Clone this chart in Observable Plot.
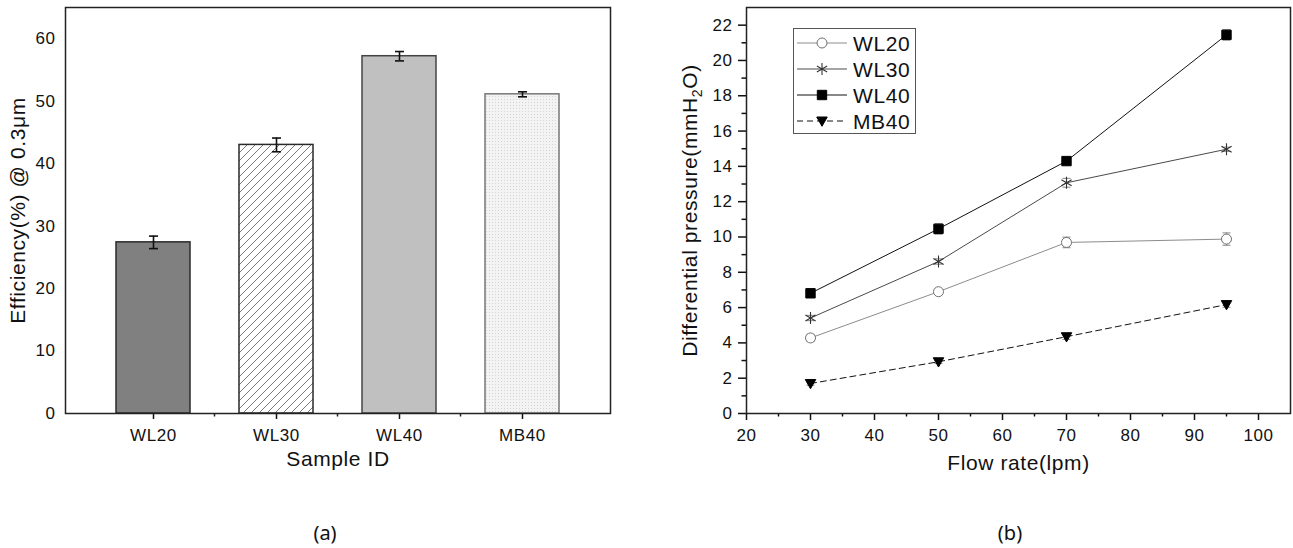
<!DOCTYPE html>
<html><head><meta charset="utf-8">
<script src="https://cdn.jsdelivr.net/npm/d3@7"></script>
<script src="https://cdn.jsdelivr.net/npm/@observablehq/plot@0.6"></script>
<style>
body{margin:0;background:#fff;}
#wrap{position:relative;width:1293px;height:548px;overflow:hidden;background:#fff;}
.panel{position:absolute;top:0;}
.cap{position:absolute;font-family:"Noto Sans",sans-serif;font-size:20px;transform:translate(-50%,-50%);color:#111;}
#legend{position:absolute;left:793px;top:28px;}
svg text{letter-spacing:0.6px;}
</style></head><body>
<svg width="0" height="0" style="position:absolute"><defs>
<pattern id="hatch" width="8" height="8" patternUnits="userSpaceOnUse"><rect width="8" height="8" fill="#fff"/><path d="M-1,1 L1,-1 M0,8 L8,0 M7,9 L9,7" stroke="#5a5a5a" stroke-width="0.8"/></pattern>
<pattern id="dots" width="3" height="3" patternUnits="userSpaceOnUse"><rect width="3" height="3" fill="#f3f3f3"/><rect width="1" height="1" fill="#d4d4d4"/></pattern>
</defs></svg>
<div id="wrap">
 <div id="a" class="panel" style="left:0"></div>
 <div id="b" class="panel" style="left:640px"></div>
 <div id="legend"></div>
 <div class="cap" style="left:325px;top:532px">(a)</div>
 <div class="cap" style="left:1010px;top:532px">(b)</div>
</div>
<script>
// ---------- data: panel (a) ----------
const samples = ["WL20", "WL30", "WL40", "MB40"];
const efficiency = [27.4, 43.0, 57.2, 51.1];
const efficiencyErr = [1.0, 1.1, 0.75, 0.4];
const efficiencyTicks = [0, 10, 20, 30, 40, 50, 60];

// ---------- data: panel (b) ----------
const flowRate = [30, 50, 70, 95];
const seriesNames = ["WL20", "WL30", "WL40", "MB40"];
const pressureWL20 = [4.28, 6.9, 9.69, 9.88];
const pressureWL30 = [5.41, 8.61, 13.07, 14.97];
const pressureWL40 = [6.81, 10.46, 14.3, 21.45];
const pressureMB40 = [1.7, 2.93, 4.35, 6.17];
const errWL20 = [0.2, 0.15, 0.3, 0.35];
const errWL30 = [0.15, 0.15, 0.25, 0.12];
const errWL40 = [0.1, 0.3, 0.1, 0.3];
const errMB40 = [0.1, 0.1, 0.15, 0.15];
const flowTicks = [20, 30, 40, 50, 60, 70, 80, 90, 100];
const flowMinorTicks = [25, 35, 45, 55, 65, 75, 85, 95];
const pressureTicks = [0, 2, 4, 6, 8, 10, 12, 14, 16, 18, 20, 22];
const pressureMinorTicks = [1, 3, 5, 7, 9, 11, 13, 15, 17, 19, 21];

// ---------- styles ----------
const FONT = '"Liberation Sans", Arial, sans-serif';
const barFill = ["#808080", "url(#hatch)", "#c0c0c0", "url(#dots)"];
const barStroke = ["#2a2a2a", "#2a2a2a", "#444", "#777"];

const capSymbol = {draw(ctx, size) { const w = Math.sqrt(size / Math.PI); ctx.moveTo(-w, 0); ctx.lineTo(w, 0); }};
const triangleDown = {draw(ctx, size) {
  const r = Math.sqrt(size / Math.PI);
  ctx.moveTo(-r * 1.05, -r * 0.8); ctx.lineTo(r * 1.05, -r * 0.8); ctx.lineTo(0, r * 1.05); ctx.closePath();
}};
const seriesStyle = {
  WL20: {line: "#8c8c8c", dash: null, symbol: "circle", fill: "white", mstroke: "#707070", r: 5, sw: 1},
  WL30: {line: "#4a4a4a", dash: null, symbol: "asterisk", fill: "none", mstroke: "#333", r: 5.6, sw: 1.1},
  WL40: {line: "#111", dash: null, symbol: "square", fill: "#000", mstroke: "#000", r: 5.3, sw: 1},
  MB40: {line: "#111", dash: "6,4", symbol: triangleDown, fill: "#000", mstroke: "#000", r: 5, sw: 1}
};

// ---------- panel (a) ----------
const effData = samples.map((s, i) => ({sample: s, value: efficiency[i], err: efficiencyErr[i]}));
const plotA = Plot.plot({
  width: 640, height: 480,
  marginLeft: 65, marginRight: 30, marginTop: 7, marginBottom: 67,
  style: {fontFamily: FONT, fontSize: "16px", color: "#111", background: "transparent", overflow: "visible"},
  x: {type: "band", domain: samples, padding: 0.4, label: null},
  y: {domain: [0, 65], label: null},
  color: {type: "ordinal", domain: samples, range: barFill},
  marks: [
    ...samples.map((s, i) => Plot.barY(effData.filter(d => d.sample === s),
      {x: "sample", y: "value", fill: "sample", stroke: barStroke[i], strokeWidth: 1.5})),
    Plot.ruleX(effData, {x: "sample", y1: d => d.value - d.err, y2: d => d.value + d.err, stroke: "#111", strokeWidth: 1.6}),
    Plot.dot(effData, {x: "sample", y: d => d.value + d.err, symbol: capSymbol, r: 4.5, stroke: "#111", strokeWidth: 1.6, fill: "none"}),
    Plot.dot(effData, {x: "sample", y: d => d.value - d.err, symbol: capSymbol, r: 4.5, stroke: "#111", strokeWidth: 1.6, fill: "none"}),
    Plot.axisY({ticks: efficiencyTicks, tickSize: 0, tickPadding: 10, fontSize: 17, label: null}),
    Plot.axisX({tickSize: 6, tickPadding: 9, strokeWidth: 1.5, fontSize: 17, label: null}),
    Plot.frame({stroke: "#222", strokeWidth: 1.5}),
    Plot.text(["Sample ID"], {text: d => d, frameAnchor: "bottom", dy: 52, fontSize: 21}),
    Plot.text(["Efficiency(%) @ 0.3μm"], {text: d => d, frameAnchor: "left", textAnchor: "middle", rotate: -90, dx: -47, fontSize: 21})
  ]
});
document.getElementById("a").appendChild(plotA);
// minor ticks between categories
{
  const xs = plotA.scale("x");
  const yb = 480 - 67;
  const g = d3.select(plotA).append("g").attr("stroke", "#222").attr("stroke-width", 1.5);
  samples.slice(0, -1).forEach(s => {
    const xm = xs.apply(s) + xs.bandwidth / 2 + xs.step / 2;
    g.append("line").attr("x1", xm).attr("x2", xm).attr("y1", yb).attr("y2", yb + 3.5);
  });
}

// ---------- panel (b) ----------
const pressureSeries = [pressureWL20, pressureWL30, pressureWL40, pressureMB40];
const errSeries = [errWL20, errWL30, errWL40, errMB40];
const dpData = seriesNames.flatMap((name, k) => flowRate.map((f, i) => ({
  series: name, flow: f, dp: pressureSeries[k][i], err: errSeries[k][i]
})));

const seriesMarks = seriesNames.flatMap(name => {
  const st = seriesStyle[name];
  const d = dpData.filter(r => r.series === name);
  return [
    Plot.line(d, {x: "flow", y: "dp", stroke: st.line, strokeWidth: 1, strokeDasharray: st.dash}),
    Plot.ruleX(d, {x: "flow", y1: r => r.dp - r.err, y2: r => r.dp + r.err, stroke: "#888", strokeWidth: 1}),
    Plot.dot(d, {x: "flow", y: r => r.dp + r.err, symbol: capSymbol, r: 4, stroke: "#888", strokeWidth: 1, fill: "none"}),
    Plot.dot(d, {x: "flow", y: r => r.dp - r.err, symbol: capSymbol, r: 4, stroke: "#888", strokeWidth: 1, fill: "none"})
  ];
});
const dotMarks = seriesNames.map(name => {
  const st = seriesStyle[name];
  const d = dpData.filter(r => r.series === name);
  return Plot.dot(d, {x: "flow", y: "dp", symbol: st.symbol, r: st.r, fill: st.fill, stroke: st.mstroke, strokeWidth: st.sw});
});

const plotB = Plot.plot({
  width: 653, height: 480,
  marginLeft: 106, marginRight: 3, marginTop: 7, marginBottom: 67,
  style: {fontFamily: FONT, fontSize: "16px", color: "#111", background: "transparent", overflow: "visible"},
  x: {domain: [20, 105], label: null},
  y: {domain: [0, 23], label: null},
  marks: [
    ...seriesMarks,
    ...dotMarks,
    Plot.axisY(pressureTicks, {tickSize: 8, tickPadding: 6, strokeWidth: 1.5, fontSize: 17, label: null}),
    Plot.axisY(pressureMinorTicks, {tickSize: 4.5, tickFormat: () => "", strokeWidth: 1.5, label: null}),
    Plot.axisX(flowTicks, {tickSize: 7, tickPadding: 8, strokeWidth: 1.5, fontSize: 17, label: null}),
    Plot.axisX(flowMinorTicks, {tickSize: 3.5, tickFormat: () => "", strokeWidth: 1.5, label: null}),
    Plot.frame({stroke: "#222", strokeWidth: 1.5}),
    Plot.text(["Flow rate(lpm)"], {text: d => d, frameAnchor: "bottom", dy: 56, fontSize: 21}),
    Plot.text(["Differential pressure(mmH2O)"], {text: d => d, frameAnchor: "left", textAnchor: "middle", rotate: -90, dx: -56, fontSize: 21})
  ]
});
document.getElementById("b").appendChild(plotB);
// subscript 2 in mmH2O
d3.select(plotB).selectAll("text").filter(function() { return this.textContent === "Differential pressure(mmH2O)"; })
  .each(function() {
    const t = d3.select(this);
    t.text(null);
    t.append("tspan").text("Differential pressure(mmH");
    t.append("tspan").attr("dy", 5).attr("font-size", 14).text("2");
    t.append("tspan").attr("dy", -5).text("O)");
  });

// ---------- legend ----------
{
  const lw = 123, lh = 106, rowH = 26, y0 = 15;
  const svg = d3.select("#legend").append("svg").attr("width", lw).attr("height", lh)
    .style("font-family", FONT).style("font-size", "21px").style("overflow", "visible");
  svg.append("rect").attr("x", 0.5).attr("y", 0.5).attr("width", lw - 1).attr("height", lh - 1)
    .attr("fill", "white").attr("stroke", "#555").attr("stroke-width", 1);
  seriesNames.forEach((name, i) => {
    const st = seriesStyle[name];
    const y = y0 + i * rowH;
    const g = svg.append("g").attr("transform", `translate(0,${y})`);
    g.append("line").attr("x1", 4).attr("x2", 54).attr("y1", 0).attr("y2", 0)
      .attr("stroke", st.line).attr("stroke-width", 1).attr("stroke-dasharray", st.dash);
    const sym = typeof st.symbol === "string"
      ? {circle: d3.symbolCircle, asterisk: d3.symbolAsterisk, square: d3.symbolSquare}[st.symbol]
      : st.symbol;
    g.append("path").attr("transform", "translate(29,0)")
      .attr("d", d3.symbol(sym, Math.PI * st.r * st.r)())
      .attr("fill", st.fill).attr("stroke", st.mstroke).attr("stroke-width", st.sw);
    g.append("text").attr("x", 60).attr("y", 0).attr("dy", "0.36em").attr("fill", "#111").text(name);
  });
}
</script>
</body></html>
